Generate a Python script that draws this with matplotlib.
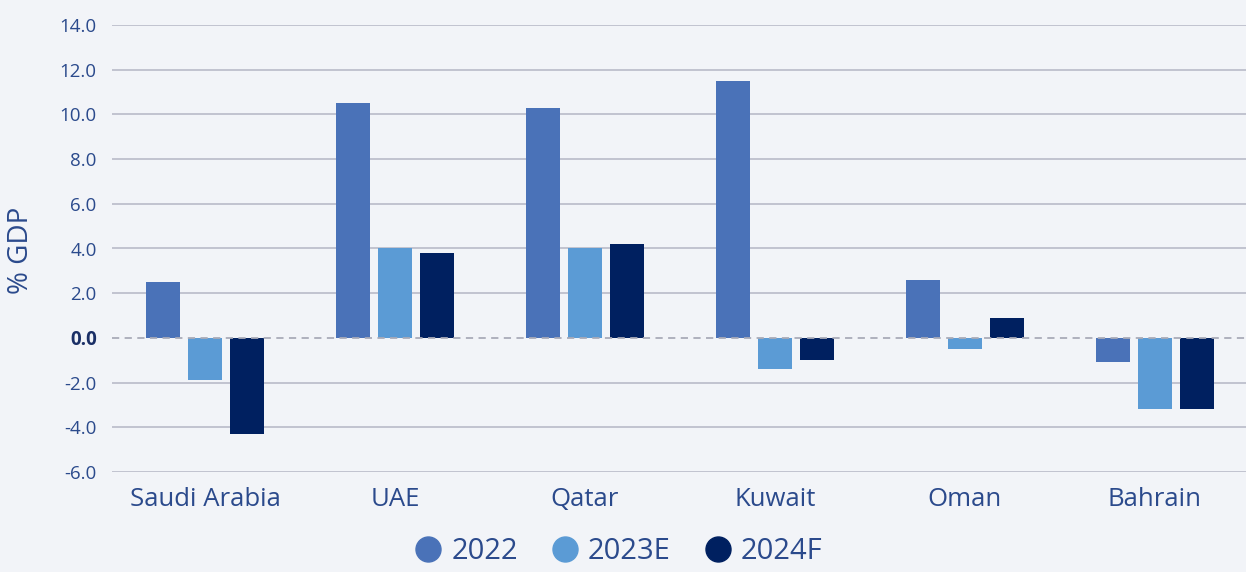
import numpy as np
import matplotlib
matplotlib.use("Agg")
import matplotlib.pyplot as plt
import matplotlib.transforms as mtrans
from matplotlib.lines import Line2D

# ── Data ──────────────────────────────────────────────────────────────────────
countries = ["Saudi Arabia", "UAE", "Qatar", "Kuwait", "Oman", "Bahrain"]
series_names = ["2022", "2023E", "2024F"]
vals_2022 = [2.5, 10.5, 10.3, 11.5, 2.6, -1.1]
vals_2023e = [-1.9, 4.0, 4.0, -1.4, -0.5, -3.2]
vals_2024f = [-4.3, 3.8, 4.2, -1.0, 0.9, -3.2]
y_ticks = [-6, -4, -2, 0, 2, 4, 6, 8, 10, 12, 14]

colors = ["#4a72b8", "#5b9bd5", "#002060"]
bg = "#f2f4f8"
text_col = "#2b4a8c"
grid_col = "#b9bbc8"

plt.rcParams["font.family"] = ["Open Sans", "DejaVu Sans"]

fig = plt.figure(figsize=(12.46, 5.72), dpi=100, facecolor=bg)
ax = fig.add_axes([112 / 1246, 100 / 572, 1 - 112 / 1246, 447 / 572])
ax.set_facecolor(bg)

x = np.arange(len(countries))
width = 0.179
offset = 0.221
for i, (vals, c) in enumerate(zip([vals_2022, vals_2023e, vals_2024f], colors)):
    ax.bar(x + (i - 1) * offset, vals, width, color=c, zorder=3)

# gridlines
for t in y_ticks:
    if t == 0:
        ax.axhline(t, color="#a9abb8", lw=1.3, ls=(0, (4, 3)), zorder=4)
    else:
        ax.axhline(t, color=grid_col, lw=1.2, zorder=1)

ax.set_ylim(-6, 14)
ax.set_xlim(-0.49, 5.48)
ax.set_yticks(y_ticks)
ax.set_yticklabels([f"{t:.1f}" for t in y_ticks])
shift = mtrans.ScaledTranslation(0, 3 / 100, fig.dpi_scale_trans)
for lbl, t in zip(ax.get_yticklabels(), y_ticks):
    lbl.set_color(text_col)
    lbl.set_fontsize(13.5)
    lbl.set_transform(lbl.get_transform() + shift)
    if t == 0:
        lbl.set_fontweight("bold")
        lbl.set_color("#1a2f66")
ax.tick_params(axis="y", length=0, pad=11)
ax.set_xticks(x)
ax.set_xticklabels(countries, fontsize=18.5, color=text_col)
ax.tick_params(axis="x", length=0, pad=11)
for s in ax.spines.values():
    s.set_visible(False)

fig.text(0.017, (572 - 250) / 572, "% GDP", rotation=90, ha="center", va="center",
         fontsize=20, color=text_col)

handles = [Line2D([], [], marker="o", ls="", markersize=18, color=c) for c in colors]
fig.legend(handles, series_names, loc="center", bbox_to_anchor=(0.496, 0.036), ncol=3,
           frameon=False, fontsize=21, labelcolor=text_col, handletextpad=0.3,
           columnspacing=1.1, handlelength=1.0, borderpad=0.1)

fig.savefig("out.png", dpi=100, facecolor=bg)
